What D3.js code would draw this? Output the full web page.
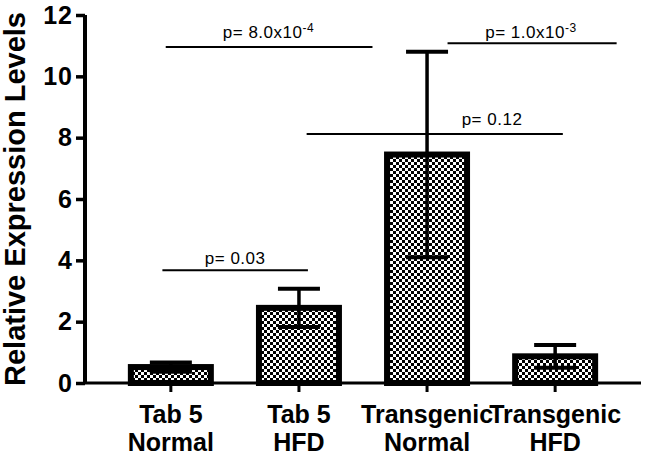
<!DOCTYPE html>
<html>
<head>
<meta charset="utf-8">
<script src="https://cdn.jsdelivr.net/npm/d3@7"></script>
<style>
  body { margin: 0; background: #fff; }
  svg { display: block; }
  text { font-family: "Liberation Sans", Arial, sans-serif; fill: #000; }
</style>
</head>
<body>
<svg width="650" height="458"></svg>
<script>
// values
var catLine1 = ["Tab 5", "Tab 5", "Transgenic", "Transgenic"];
var catLine2 = ["Normal", "HFD", "Normal", "HFD"];
var means = [0.52, 2.45, 7.45, 0.87];
var errs = [0.15, 0.62, 3.35, 0.37];
var yTicks = [0, 2, 4, 6, 8, 10, 12];

// significance brackets, ends given in category index units
var pBase = ["p= 8.0x10", "p= 0.03", "p= 0.12", "p= 1.0x10"];
var pExp = ["-4", "", "", "-3"];
var pLineY = [10.96, 3.68, 8.12, 11.08];
var pTextY = [11.24, 3.88, 8.41, 11.24];
var pFrom = [-0.04, -0.066, 1.06, 2.16];
var pTo = [1.574, 1.07, 3.06, 3.48];
var pTextAt = [0.762, 0.502, 2.507, 2.811];

var svg = d3.select("svg");
var mLeft = 85, mRight = 641, mTop = 15, mBottom = 383;

var x = d3.scaleBand()
  .domain(d3.range(means.length))
  .range([mLeft, mRight])
  .paddingInner(0.3755)
  .paddingOuter(0.358);

var y = d3.scaleLinear().domain([0, 12]).range([mBottom, mTop]);

// position along x in index units (0 = centre of first bar)
function xi(i) {
  return x(0) + x.bandwidth() / 2 + i * x.step();
}

var defs = svg.append("defs");
var pat = defs.append("pattern")
  .attr("id", "checker")
  .attr("patternUnits", "userSpaceOnUse")
  .attr("width", 6)
  .attr("height", 6);
pat.append("rect").attr("width", 6).attr("height", 6).attr("fill", "#fff");
pat.append("rect").attr("width", 3).attr("height", 3).attr("fill", "#000");
pat.append("rect").attr("x", 3).attr("y", 3).attr("width", 3).attr("height", 3).attr("fill", "#000");

// bars
svg.append("g").selectAll("rect")
  .data(means)
  .enter()
  .append("rect")
  .attr("x", function(d, i) { return x(i); })
  .attr("y", function(d) { return y(d); })
  .attr("width", x.bandwidth())
  .attr("height", function(d) { return y(0) - y(d); })
  .attr("fill", "url(#checker)")
  .attr("stroke", "#000")
  .attr("stroke-width", 6);

// error bars
var eb = svg.append("g").selectAll("g")
  .data(means)
  .enter()
  .append("g")
  .attr("stroke", "#000");
eb.append("line")
  .attr("x1", function(d, i) { return xi(i); })
  .attr("x2", function(d, i) { return xi(i); })
  .attr("y1", function(d, i) { return y(d + errs[i]); })
  .attr("y2", function(d, i) { return y(d - errs[i]); })
  .attr("stroke-width", 3.5);
[1, -1].forEach(function(s) {
  eb.append("line")
    .attr("x1", function(d, i) { return xi(i) - 21; })
    .attr("x2", function(d, i) { return xi(i) + 21; })
    .attr("y1", function(d, i) { return y(d + s * errs[i]); })
    .attr("y2", function(d, i) { return y(d + s * errs[i]); })
    .attr("stroke-width", 4);
});

// axes
var yAxis = svg.append("g")
  .attr("transform", "translate(" + mLeft + ",0)")
  .call(d3.axisLeft(y).tickValues(yTicks).tickSize(9).tickPadding(3).tickFormat(d3.format("d")));
yAxis.select(".domain").attr("d", "M0," + mTop + "V" + mBottom).attr("stroke-width", 4);
yAxis.selectAll(".tick line").attr("stroke-width", 3.5);
yAxis.selectAll(".tick text")
  .style("font-size", "25px")
  .style("font-weight", "bold")
  .style("letter-spacing", "1px")
  .attr("font-family", null);

var xAxis = svg.append("g").attr("transform", "translate(0," + mBottom + ")");
xAxis.append("line")
  .attr("x1", mLeft - 2).attr("x2", mRight)
  .attr("stroke", "#000").attr("stroke-width", 3);
xAxis.selectAll(".xt")
  .data(means)
  .enter()
  .append("line")
  .attr("x1", function(d, i) { return xi(i); })
  .attr("x2", function(d, i) { return xi(i); })
  .attr("y1", 0).attr("y2", 9)
  .attr("stroke", "#000").attr("stroke-width", 3);

var xl = svg.append("g").selectAll("text")
  .data(catLine1)
  .enter()
  .append("text")
  .attr("x", function(d, i) { return xi(i); })
  .attr("y", 423)
  .attr("text-anchor", "middle")
  .style("font-size", "25px")
  .style("font-weight", "bold");
xl.append("tspan").text(function(d) { return d; });
xl.append("tspan")
  .attr("x", function(d, i) { return xi(i); })
  .attr("dy", 28)
  .text(function(d, i) { return catLine2[i]; });

// y title
svg.append("text")
  .attr("transform", "translate(25," + ((mTop + mBottom) / 2) + ") rotate(-90)")
  .attr("text-anchor", "middle")
  .style("font-size", "29px")
  .style("font-weight", "bold")
  .text("Relative Expression Levels");

// significance annotations
var sig = svg.append("g").selectAll("g")
  .data(pBase)
  .enter()
  .append("g");
sig.append("line")
  .attr("x1", function(d, i) { return xi(pFrom[i]); })
  .attr("x2", function(d, i) { return xi(pTo[i]); })
  .attr("y1", function(d, i) { return y(pLineY[i]); })
  .attr("y2", function(d, i) { return y(pLineY[i]); })
  .attr("stroke", "#000")
  .attr("stroke-width", 2);
var st = sig.append("text")
  .attr("x", function(d, i) { return xi(pTextAt[i]); })
  .attr("y", function(d, i) { return y(pTextY[i]); })
  .attr("text-anchor", "middle")
  .style("font-size", "17px")
  .style("letter-spacing", "0.5px");
st.append("tspan").text(function(d) { return d; });
st.append("tspan")
  .attr("dy", -6)
  .style("font-size", "12px")
  .text(function(d, i) { return pExp[i]; });
</script>
</body>
</html>
